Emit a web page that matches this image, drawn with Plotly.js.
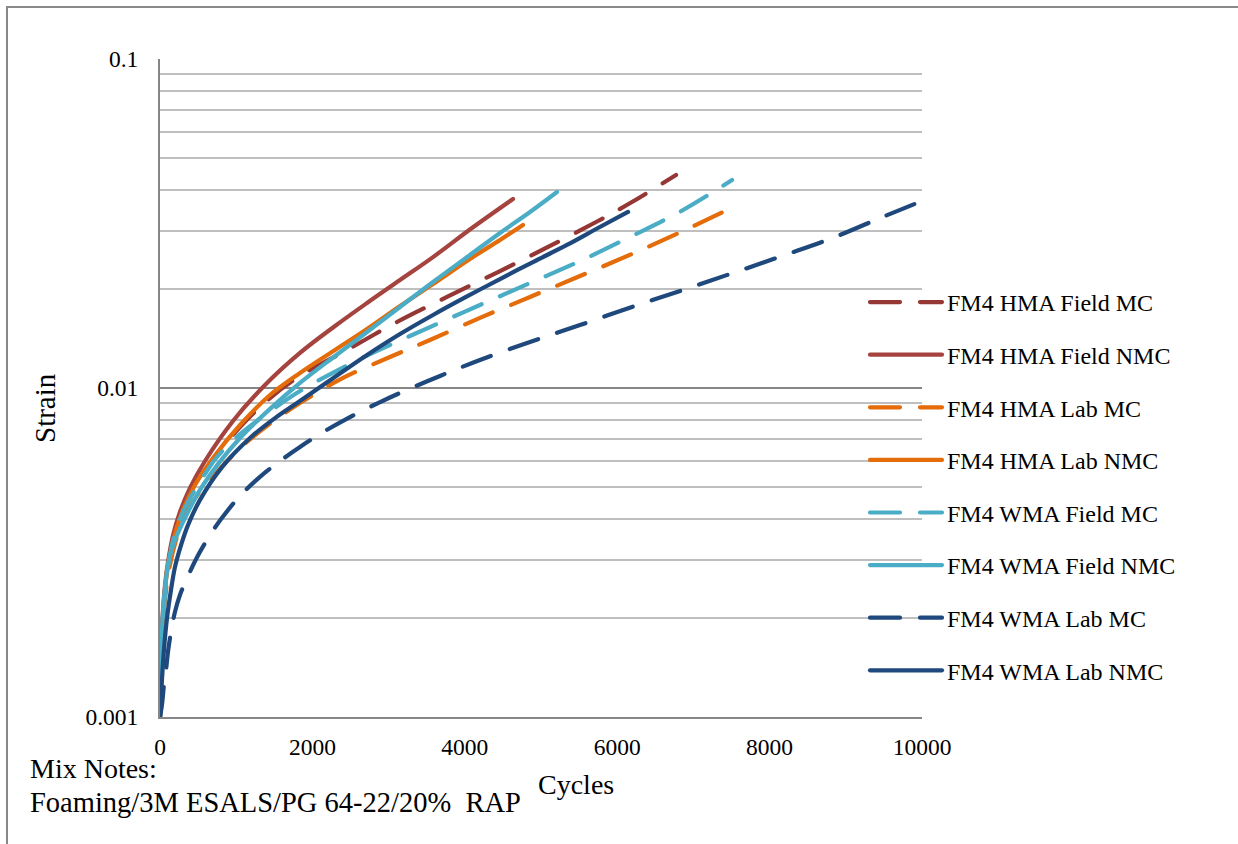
<!DOCTYPE html>
<html>
<head>
<meta charset="utf-8">
<script src="https://cdn.plot.ly/plotly-3.0.1.min.js"></script>
<style>
  html, body { margin: 0; padding: 0; background: #fff; }
  #chart { width: 1238px; height: 844px; }
  .js-line, .legendlines path { stroke-linecap: round; stroke-linejoin: round; }
</style>
</head>
<body>
<div id="chart"></div>
<script>
// ---- Data ----
const seriesNames = [
  "FM4 HMA Field MC", "FM4 HMA Field NMC",
  "FM4 HMA Lab MC", "FM4 HMA Lab NMC",
  "FM4 WMA Field MC", "FM4 WMA Field NMC",
  "FM4 WMA Lab MC", "FM4 WMA Lab NMC"
];

const hmaFieldMC_x = [0, 20, 39, 79, 131, 210, 302, 459, 696, 1050, 1444, 1837, 2454, 3110, 3766, 4436, 5092, 5748, 6194, 6772];
const hmaFieldMC_y = [0.001, 0.00154, 0.00197, 0.00252, 0.00304, 0.00362, 0.00417, 0.00497, 0.00604, 0.00761, 0.00932, 0.01088, 0.01305, 0.01587, 0.01891, 0.02252, 0.02683, 0.03218, 0.03675, 0.04441];

const hmaFieldNMC_x = [0, 13, 33, 66, 105, 171, 262, 394, 591, 958, 1378, 1837, 2297, 2717, 3150, 3583, 4094, 4633];
const hmaFieldNMC_y = [0.001, 0.00149, 0.002, 0.00252, 0.00296, 0.00357, 0.0042, 0.00497, 0.006, 0.00794, 0.01021, 0.01278, 0.01543, 0.01813, 0.02129, 0.025, 0.03064, 0.03754];

const hmaLabMC_x = [0, 20, 39, 79, 131, 210, 328, 472, 656, 919, 1155, 1509, 1837, 2402, 3018, 3543, 4199, 4856, 5512, 6194, 6864, 7388];
const hmaLabMC_y = [0.001, 0.0016, 0.00197, 0.00243, 0.0029, 0.00345, 0.00411, 0.00466, 0.00525, 0.00613, 0.0069, 0.00799, 0.009, 0.01073, 0.01242, 0.01399, 0.01633, 0.01891, 0.0219, 0.02555, 0.03001, 0.03428];

const hmaLabNMC_x = [0, 20, 39, 79, 131, 210, 302, 459, 696, 1050, 1444, 1837, 2297, 2717, 3150, 3583, 4068, 4462, 4764];
const hmaLabNMC_y = [0.001, 0.0016, 0.002, 0.00261, 0.00311, 0.0037, 0.00426, 0.00507, 0.00613, 0.00772, 0.00952, 0.01111, 0.01305, 0.01511, 0.01775, 0.0207, 0.02467, 0.02818, 0.03129];

const wmaFieldMC_x = [0, 13, 26, 46, 66, 105, 157, 223, 328, 459, 591, 748, 1024, 1378, 1837, 2362, 2848, 3543, 4199, 4856, 5512, 6194, 6864, 7507];
const wmaFieldMC_y = [0.001, 0.00139, 0.00171, 0.00207, 0.00235, 0.00286, 0.00333, 0.00378, 0.00432, 0.0049, 0.00548, 0.00617, 0.00715, 0.00828, 0.00979, 0.01142, 0.01296, 0.01532, 0.01788, 0.02085, 0.02432, 0.02897, 0.03475, 0.04287];

const wmaFieldNMC_x = [0, 13, 33, 66, 118, 197, 354, 525, 761, 1050, 1444, 1837, 2297, 2717, 3150, 3583, 4068, 4462, 4856, 5210];
const wmaFieldNMC_y = [0.001, 0.00149, 0.00197, 0.00247, 0.003, 0.00345, 0.00414, 0.0049, 0.00587, 0.00705, 0.00864, 0.01036, 0.01251, 0.0148, 0.01763, 0.021, 0.02537, 0.02959, 0.03428, 0.03943];

const wmaLabMC_x = [0, 26, 52, 79, 105, 144, 197, 262, 367, 486, 656, 814, 1050, 1312, 1575, 1837, 2165, 2493, 2861, 3150, 3675, 4199, 4856, 5512, 6194, 6864, 7520, 8202, 8858, 9514, 10000];
const wmaLabMC_y = [0.001, 0.00109, 0.00125, 0.00139, 0.00158, 0.00181, 0.00209, 0.00235, 0.00268, 0.00306, 0.00357, 0.00403, 0.0047, 0.00537, 0.006, 0.00662, 0.0074, 0.00816, 0.009, 0.00966, 0.01088, 0.01217, 0.0138, 0.01554, 0.01763, 0.01986, 0.02237, 0.02537, 0.02877, 0.03333, 0.03702];

const wmaLabNMC_x = [0, 26, 52, 92, 144, 197, 276, 367, 525, 814, 1181, 1509, 1837, 2257, 2717, 3150, 3583, 4016, 4462, 4895, 5341, 5748, 6142];
const wmaLabNMC_y = [0.001, 0.0013, 0.0016, 0.002, 0.00243, 0.00286, 0.00333, 0.00383, 0.00457, 0.00575, 0.00705, 0.0081, 0.00913, 0.01065, 0.0126, 0.01459, 0.01667, 0.01891, 0.02144, 0.02415, 0.02721, 0.03064, 0.03428];

const xTickVals = [0, 2000, 4000, 6000, 8000, 10000];
const xTickText = ["0", "2000", "4000", "6000", "8000", "10000"];
const yTickVals = [0.001, 0.01, 0.1];
const yTickText = ["0.001", "0.01", "0.1"];

const noteLine1 = "Mix Notes:";
const noteLine2 = "Foaming/3M ESALS/PG 64-22/20%\u00a0 RAP";

// ---- Styles ----
const seriesX = [hmaFieldMC_x, hmaFieldNMC_x, hmaLabMC_x, hmaLabNMC_x, wmaFieldMC_x, wmaFieldNMC_x, wmaLabMC_x, wmaLabNMC_x];
const seriesY = [hmaFieldMC_y, hmaFieldNMC_y, hmaLabMC_y, hmaLabNMC_y, wmaFieldMC_y, wmaFieldNMC_y, wmaLabMC_y, wmaLabNMC_y];
const seriesColors = ["#953735", "#A5433F", "#E46C0A", "#E46C0A", "#4BACC6", "#4BACC6", "#1F497D", "#1F497D"];
const seriesDash = ["30px,20px", "solid", "30px,20px", "solid", "30px,20px", "solid", "30px,20px", "solid"];

const FONT = "'Times New Roman', 'Liberation Serif', serif";

const traces = seriesNames.map((n, i) => ({
  type: "scatter",
  mode: "lines",
  name: n,
  x: seriesX[i],
  y: seriesY[i],
  legendgroup: "g" + i,
  line: { color: seriesColors[i], width: 4.2, dash: seriesDash[i], shape: "spline", smoothing: 1 },
  hoverinfo: "x+y+name"
}));

// pixel helpers for paper coordinates of decorations
const L = 160, R = 922, T = 59, B = 717;
const px = v => (v - L) / (R - L);
const py = v => (B - v) / (B - T);

const layout = {
  width: 1238,
  height: 844,
  margin: { l: L, r: 1238 - R, t: T, b: 844 - B, pad: 0 },
  paper_bgcolor: "#fff",
  plot_bgcolor: "#fff",
  font: { family: FONT, color: "#000", size: 23 },
  showlegend: true,
  legend: {
    x: px(865), xanchor: "left",
    y: py(280), yanchor: "top",
    bgcolor: "rgba(255,255,255,0)",
    borderwidth: 0,
    font: { family: FONT, size: 24, color: "#000" },
    traceorder: "grouped",
    tracegroupgap: 18.4,
    itemwidth: 72
  },
  xaxis: {
    type: "linear",
    range: [0, 10000],
    tickvals: xTickVals,
    ticktext: xTickText,
    showgrid: false,
    zeroline: false,
    showline: true,
    linecolor: "#868686",
    linewidth: 2,
    ticks: "",
    ticklabelstandoff: 8,
    tickfont: { family: FONT, size: 23.5, color: "#000" },
    fixedrange: true
  },
  yaxis: {
    type: "log",
    range: [-3, -1],
    tickvals: yTickVals,
    ticktext: yTickText,
    showgrid: true,
    gridcolor: "#868686",
    gridwidth: 2,
    minor: { dtick: "D1", showgrid: true, gridcolor: "#BFBFBF", gridwidth: 1.6, ticks: "" },
    zeroline: false,
    showline: true,
    linecolor: "#868686",
    linewidth: 2,
    ticks: "",
    ticklabelstandoff: 15,
    tickfont: { family: FONT, size: 23.5, color: "#000" },
    fixedrange: true
  },
  shapes: [
    { type: "rect", xref: "paper", yref: "paper", layer: "between",
      x0: px(828), x1: 1.0, y0: py(702), y1: py(258),
      fillcolor: "#fff", line: { width: 0 } },
    { type: "rect", xref: "paper", yref: "paper", layer: "above",
      x0: px(7), x1: px(1260), y0: py(870), y1: py(7),
      fillcolor: "rgba(0,0,0,0)", line: { color: "#898989", width: 2 } }
  ],
  annotations: [
    { text: "Strain", xref: "paper", yref: "paper", x: px(45), y: py(408),
      xanchor: "center", yanchor: "middle", textangle: -90, showarrow: false,
      font: { family: FONT, size: 29, color: "#000" } },
    { text: "Cycles", xref: "paper", yref: "paper", x: px(576), y: py(784),
      xanchor: "center", yanchor: "middle", showarrow: false,
      font: { family: FONT, size: 28, color: "#000" } },
    { text: noteLine1, xref: "paper", yref: "paper", x: px(28), y: py(768),
      xanchor: "left", yanchor: "middle", showarrow: false,
      font: { family: FONT, size: 28, color: "#000" } },
    { text: noteLine2, xref: "paper", yref: "paper", x: px(28), y: py(802),
      xanchor: "left", yanchor: "middle", showarrow: false,
      font: { family: FONT, size: 28.5, color: "#000" } }
  ]
};

Plotly.newPlot("chart", traces, layout, { staticPlot: true, displayModeBar: false });
</script>
</body>
</html>
